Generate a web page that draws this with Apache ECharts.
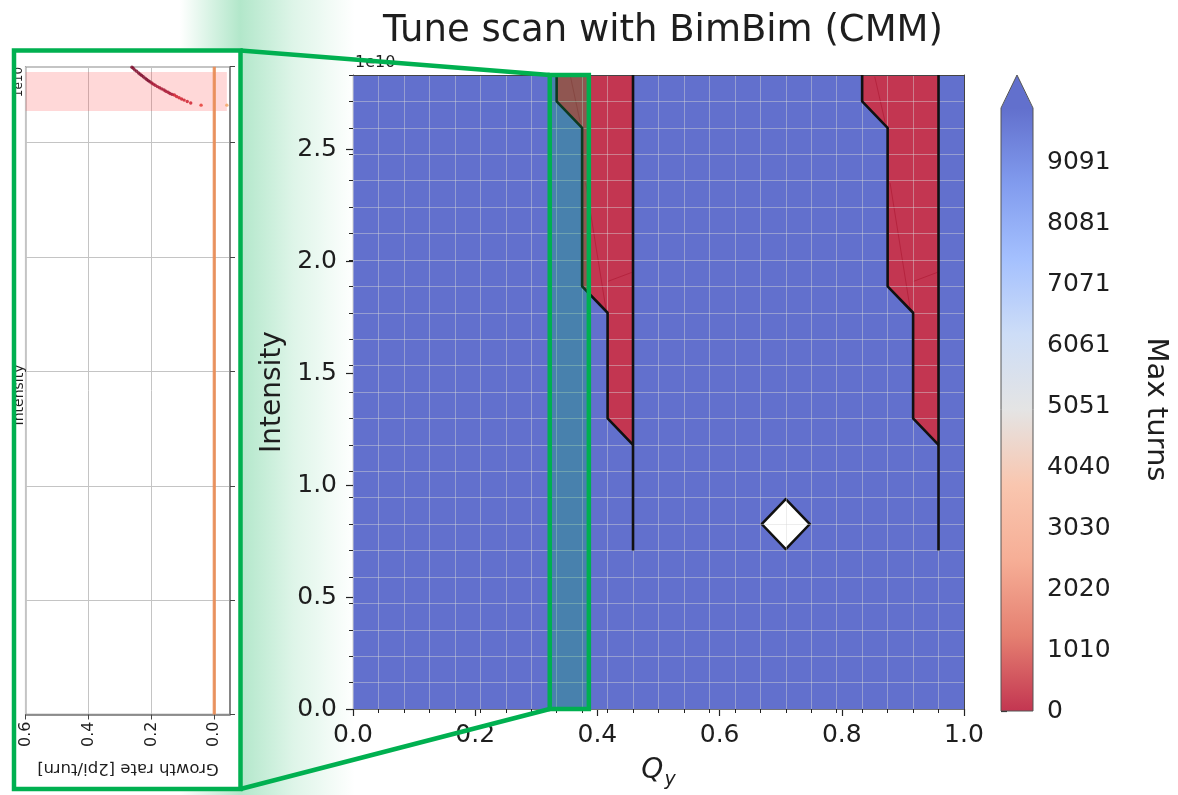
<!DOCTYPE html>
<html><head><meta charset="utf-8">
<script src="https://cdn.jsdelivr.net/npm/echarts@6/dist/echarts.min.js"></script>
<style>html,body{margin:0;padding:0;background:#fff}#c{width:1178px;height:795px}</style>
</head><body><div id="c"></div>
<script>
// ================= DATA =================
const qyTicks = [0, 0.2, 0.4, 0.6, 0.8, 1.0];
const qyStep = 1 / 24;                 // tune scan step in Qy
const intensityStep = 0.118;           // tune scan step in intensity (x1e10)
const qyRange = [0, 1];
const intensityRange = [0, 2.832];     // x1e10
// unstable (max turns ~ 0) regions, Qy vs intensity
const unstableA = [[0.3333,2.832],[0.3333,2.714],[0.375,2.596],[0.375,1.888],[0.4167,1.770],[0.4167,1.298],[0.4583,1.180],[0.4583,2.832]];
const unstableB = [[0.8333,2.832],[0.8333,2.714],[0.875,2.596],[0.875,1.888],[0.9167,1.770],[0.9167,1.298],[0.9583,1.180],[0.9583,2.832]];
// stability boundary contours
const contourA1 = [[0.3333,2.832],[0.3333,2.714],[0.375,2.596],[0.375,1.888],[0.4167,1.770],[0.4167,1.298],[0.4583,1.180]];
const contourA2 = [[0.4583,2.832],[0.4583,0.708]];
const contourB1 = [[0.8333,2.832],[0.8333,2.714],[0.875,2.596],[0.875,1.888],[0.9167,1.770],[0.9167,1.298],[0.9583,1.180]];
const contourB2 = [[0.9583,2.832],[0.9583,0.708]];
// faint inner contour traces
const innerTraces = [
  [[0.356,2.824],[0.372,2.62]], [[0.381,2.35],[0.414,1.786]], [[0.417,1.91],[0.456,1.95]],
  [[0.854,2.824],[0.871,2.62]], [[0.879,2.35],[0.912,1.786]], [[0.917,1.91],[0.956,1.95]]
];
const workingPoint = [[0.7083, 0.826]];
const highlightQy = [0.322, 0.386];
// colorbar (max turns)
const colorbarTicks = [0, 1010.1, 2020.2, 3030.3, 4040.4, 5050.5, 6060.6, 7070.7, 8080.8, 9090.9];
const colorbarMax = 10000;
// inset: growth rate [2pi/turn] vs intensity (x1e10)
const growthRate      = [0.262,0.258,0.253,0.247,0.241,0.236,0.231,0.226,0.220,0.215,0.210,0.205,0.199,0.194,0.188,0.181,0.174,0.167,0.160,0.154,0.147,0.141,0.134,0.127,0.120,0.112,0.104,0.096,0.086,0.075,0.042,-0.040];
const growthIntensity = [2.830,2.825,2.818,2.812,2.805,2.799,2.794,2.788,2.782,2.776,2.771,2.766,2.761,2.756,2.751,2.745,2.740,2.735,2.730,2.725,2.720,2.715,2.711,2.708,2.702,2.696,2.691,2.686,2.680,2.673,2.664,2.664];
const stableModeLine = [[0, 0], [0, 2.832]];
const insetBand = [2.638, 2.809];
const insetBandGrowth = [0.6, -0.04];
const growthTicks = [0, 0.2, 0.4, 0.6];
const insetIntensityTicksStep = 0.5;

// ================= STYLE =================
const FONT = 'DejaVu Sans';
const TXT = '#1e1e1e';
const GREEN = '#00b050';
// coolwarm (alpha 0.8 on white), from 0 turns (red) to max (blue)
const cmapStops = [
  [0.000,'rgb(195,54,81)'],[0.125,'rgb(229,128,113)'],[0.250,'rgb(246,174,150)'],
  [0.375,'rgb(249,198,175)'],[0.500,'rgb(228,228,228)'],[0.625,'rgb(205,221,247)'],
  [0.750,'rgb(164,192,254)'],[0.875,'rgb(129,155,238)'],[1.000,'rgb(98,112,205)']
].map(s => ({offset: s[0], color: s[1]}));
const STABLE_COLOR = 'rgb(98,112,205)';
const UNSTABLE_COLOR = 'rgb(195,54,81)';

const chart = echarts.init(document.getElementById('c'), null, {renderer: 'canvas'});

function fillSeries(poly, color, z) {
  return {type:'custom', xAxisIndex:0, yAxisIndex:0, z, silent:true, clip:true, data:[[poly[0][0], poly[0][1]]],
    renderItem: (p, api) => ({type:'polygon', shape:{points: poly.map(pt => api.coord(pt))}, style:{fill: color}})};
}
function contourSeries(pts) {
  return {type:'line', xAxisIndex:0, yAxisIndex:0, z:12, data: pts, showSymbol:false, symbol:'none', silent:true, clip:true,
    lineStyle:{color:'#111', width:2.6}};
}
function dotColor(g) {
  if (g > 0.20) return '#7d0a2a';
  if (g > 0.13) return '#a30e2c';
  if (g > 0.06) return '#cc1626';
  if (g > 0) return '#e5332a';
  return '#f4a25c';
}

const option = {
  animation: false,
  backgroundColor: '#fff',
  title: {text:'Tune scan with BimBim (CMM)', left: 658, top: 8, textAlign:'center',
    textStyle:{fontFamily:FONT, fontSize:37, fontWeight:'normal', color:TXT}},
  grid: [
    {left:353, top:75, width:611, height:636},
    {left:25.7, top:66.7, width:204.3, height:647.8, show:true, backgroundColor:'#fff', borderColor:'#8a8a8a', borderWidth:1.5},
    {left:1001, top:108, width:32, height:603}
  ],
  xAxis: [
    {gridIndex:0, type:'value', position:'bottom', min:qyRange[0], max:qyRange[1], interval:0.2,
      axisLine:{show:true, onZero:false, lineStyle:{color:'#222', width:1.2}},
      axisTick:{show:true, length:7, lineStyle:{color:'#222', width:1.2}},
      axisLabel:{fontFamily:FONT, fontSize:25, color:TXT, margin:14, formatter: v => v.toFixed(1)},
      splitLine:{show:false},
      name:'{q|Q}{s|y}', nameLocation:'middle', nameGap:48,
      nameTextStyle:{rich:{q:{fontFamily:FONT, fontSize:28, fontStyle:'italic', color:TXT, verticalAlign:'top'},
                           s:{fontFamily:FONT, fontSize:19, fontStyle:'italic', color:TXT, verticalAlign:'top', padding:[14,0,0,1]}}}},
    {gridIndex:0, type:'value', position:'bottom', min:qyRange[0], max:qyRange[1], interval:qyStep, z:10,
      axisLine:{show:false, onZero:false}, axisTick:{show:true, length:4, lineStyle:{color:'#222'}},
      axisLabel:{show:false}, splitLine:{show:true, lineStyle:{color:'rgba(215,215,215,0.45)', width:1}}},
    {gridIndex:0, type:'value', position:'top', min:qyRange[0], max:qyRange[1], z:11,
      axisLine:{show:true, onZero:false, lineStyle:{color:'#444', width:1}}, axisTick:{show:false}, axisLabel:{show:false}, splitLine:{show:false}},
    {gridIndex:1, type:'value', position:'bottom', inverse:true, min:-0.05, max:0.6,
      axisLine:{show:true, onZero:false, lineStyle:{color:'#7a7a7a', width:1.5}},
      axisTick:{show:true, length:5, customValues:growthTicks, lineStyle:{color:'#444'}},
      axisLabel:{customValues:growthTicks, rotate:90, fontFamily:FONT, fontSize:16, color:TXT, margin:7, formatter: v => v.toFixed(1)},
      splitLine:{show:true, lineStyle:{color:'#c4c4c4', width:1}}},
    {gridIndex:2, type:'value', min:0, max:1, show:false}
  ],
  yAxis: [
    {gridIndex:0, type:'value', position:'left', min:intensityRange[0], max:intensityRange[1], interval:0.5,
      axisLine:{show:true, onZero:false, lineStyle:{color:'#222', width:1.2}},
      axisTick:{show:true, length:7, lineStyle:{color:'#222', width:1.2}},
      axisLabel:{fontFamily:FONT, fontSize:25, color:TXT, margin:16, formatter: v => v.toFixed(1), showMaxLabel:false},
      splitLine:{show:false},
      name:'Intensity', nameLocation:'middle', nameGap:64,
      nameTextStyle:{fontFamily:FONT, fontSize:28, color:TXT}},
    {gridIndex:0, type:'value', position:'left', min:intensityRange[0], max:intensityRange[1], interval:intensityStep, z:10,
      axisLine:{show:false, onZero:false}, axisTick:{show:true, length:4, lineStyle:{color:'#222'}},
      axisLabel:{show:false}, splitLine:{show:true, lineStyle:{color:'rgba(215,215,215,0.45)', width:1}}},
    {gridIndex:0, type:'value', position:'right', min:intensityRange[0], max:intensityRange[1], z:11,
      axisLine:{show:true, onZero:false, lineStyle:{color:'#444', width:1}}, axisTick:{show:false}, axisLabel:{show:false}, splitLine:{show:false}},
    {gridIndex:1, type:'value', position:'right', min:intensityRange[0], max:intensityRange[1], interval:insetIntensityTicksStep,
      axisLine:{show:true, onZero:false, lineStyle:{color:'#7a7a7a', width:1.5}},
      axisTick:{show:true, length:5, lineStyle:{color:'#444'}},
      axisLabel:{show:false}, splitLine:{show:true, lineStyle:{color:'#c4c4c4', width:1}}},
    {gridIndex:2, type:'value', position:'right', min:0, max:colorbarMax,
      axisLine:{show:false}, axisTick:{show:true, length:6, customValues:colorbarTicks, lineStyle:{color:'#222', width:1.2}},
      axisLabel:{customValues:colorbarTicks, fontFamily:FONT, fontSize:25, color:TXT, margin:14, formatter: v => String(Math.round(v))},
      splitLine:{show:false},
      name:'Max turns', nameLocation:'middle', nameGap:108, nameRotate:-90,
      nameTextStyle:{fontFamily:FONT, fontSize:29, color:TXT}}
  ],
  series: [
    // stable area (max turns >= 10000)
    {type:'custom', xAxisIndex:0, yAxisIndex:0, z:1, silent:true, clip:true, data:[[qyRange[0], intensityRange[0]]],
      renderItem:(p, api) => {
        const a = api.coord([qyRange[0], intensityRange[1]]), b = api.coord([qyRange[1], intensityRange[0]]);
        return {type:'rect', shape:{x:a[0], y:a[1], width:b[0]-a[0], height:b[1]-a[1]}, style:{fill:STABLE_COLOR}};
      }},
    fillSeries(unstableA, UNSTABLE_COLOR, 2),
    fillSeries(unstableB, UNSTABLE_COLOR, 2),
    {type:'custom', xAxisIndex:0, yAxisIndex:0, z:3, silent:true, clip:true, data: innerTraces.map(t => t[0]),
      renderItem:(p, api) => ({type:'polyline', shape:{points: innerTraces[p.dataIndex].map(pt => api.coord(pt))},
        style:{stroke:'rgba(170,20,45,0.55)', lineWidth:1, fill:null}})},
    contourSeries(contourA1), contourSeries(contourA2), contourSeries(contourB1), contourSeries(contourB2),
    {type:'scatter', xAxisIndex:0, yAxisIndex:0, z:5, data: workingPoint, symbol:'diamond', symbolSize:[48,50], silent:true,
      itemStyle:{color:'#fff', borderColor:'#111', borderWidth:2.5, opacity:1}},
    // zoom highlight
    {type:'custom', xAxisIndex:0, yAxisIndex:0, z:15, silent:true, clip:false, data:[[highlightQy[0], intensityRange[0]]],
      renderItem:(p, api) => {
        const a = api.coord([highlightQy[0], intensityRange[1]]), b = api.coord([highlightQy[1], intensityRange[0]]);
        return {type:'rect', shape:{x:a[0], y:a[1], width:b[0]-a[0], height:b[1]-a[1]},
          style:{fill:'rgba(0,176,80,0.26)', stroke:GREEN, lineWidth:4.5}};
      }},
    // inset: unstable band
    {type:'custom', xAxisIndex:3, yAxisIndex:3, z:1, silent:true, clip:true, data:[[insetBandGrowth[0], insetBand[0]]],
      renderItem:(p, api) => {
        const a = api.coord([insetBandGrowth[0], insetBand[1]]), b = api.coord([insetBandGrowth[1], insetBand[0]]);
        return {type:'rect', shape:{x:a[0], y:a[1], width:b[0]-a[0], height:b[1]-a[1]}, style:{fill:'rgba(255,60,60,0.2)'}};
      }},
    {type:'line', xAxisIndex:3, yAxisIndex:3, z:3, data: stableModeLine, showSymbol:false, symbol:'none', silent:true,
      lineStyle:{color:'rgba(234,140,84,0.9)', width:3.2}},
    {type:'scatter', xAxisIndex:3, yAxisIndex:3, z:4, silent:true, clip:true, symbolSize:3.4,
      data: growthRate.map((g, i) => [g, growthIntensity[i]]),
      itemStyle:{color: p => dotColor(p.value[0])}},
    // colorbar
    {type:'custom', xAxisIndex:4, yAxisIndex:4, z:2, silent:true, clip:false, data:[[0, 0]],
      renderItem:(p, api) => {
        const tl = api.coord([0, colorbarMax]), br = api.coord([1, 0]);
        const w = br[0] - tl[0], tip = tl[1] - 33;
        return {type:'group', children:[
          {type:'rect', shape:{x:tl[0], y:tl[1], width:w, height:br[1]-tl[1]},
            style:{fill: new echarts.graphic.LinearGradient(0, 1, 0, 0, cmapStops)}},
          {type:'polygon', shape:{points:[[tl[0], tl[1]+0.5],[br[0], tl[1]+0.5],[tl[0]+w/2, tip]]}, style:{fill:STABLE_COLOR}},
          {type:'polygon', shape:{points:[[tl[0], br[1]],[tl[0], tl[1]],[tl[0]+w/2, tip],[br[0], tl[1]],[br[0], br[1]]]},
            style:{fill:null, stroke:'#555', lineWidth:1}}
        ]};
      }}
  ],
  graphic: [
    {id:'glow', type:'rect', z:-10, shape:{x:180, y:0, width:175, height:795},
      style:{fill: new echarts.graphic.LinearGradient(0, 0, 1, 0, [
        {offset:0, color:'rgba(0,176,80,0.0)'}, {offset:0.343, color:'rgba(0,176,80,0.30)'},
        {offset:0.65, color:'rgba(0,176,80,0.13)'}, {offset:1, color:'rgba(0,176,80,0.0)'}])}},
    {id:'boxFill', type:'rect', z:-9, shape:{x:14, y:50.5, width:226.5, height:738.5}, style:{fill:'#fff'}},
    {id:'insetIntensity', type:'text', z:20, x:19, y:395, rotation:Math.PI/2,
      style:{text:'Intensity', fontFamily:FONT, fontSize:14, fill:TXT, align:'center', verticalAlign:'middle'}},
    {id:'insetExp', type:'text', z:20, x:19, y:82, rotation:Math.PI/2,
      style:{text:'1e10', fontFamily:FONT, fontSize:12, fill:TXT, align:'center', verticalAlign:'middle'}},
    {id:'insetXName', type:'text', z:20, x:128, y:768, rotation:Math.PI,
      style:{text:'Growth rate [2pi/turn]', fontFamily:FONT, fontSize:16.5, fill:TXT, align:'center', verticalAlign:'middle'}},
    {id:'mainExp', type:'text', z:20, x:355, y:63,
      style:{text:'1e10', fontFamily:FONT, fontSize:16, fill:TXT, align:'left', verticalAlign:'middle'}},
    {id:'box', type:'rect', z:60, shape:{x:14, y:50.5, width:226.5, height:738.5},
      style:{fill:null, stroke:GREEN, lineWidth:4.5}}
  ]
};
chart.setOption(option);

// connector lines from inset box to highlighted strip
const hTop = chart.convertToPixel({xAxisIndex:0, yAxisIndex:0}, [highlightQy[0], intensityRange[1]]);
const hBot = chart.convertToPixel({xAxisIndex:0, yAxisIndex:0}, [highlightQy[0], intensityRange[0]]);
chart.setOption({graphic:[
  {id:'lnTop', type:'line', z:60, shape:{x1:240.5, y1:50.5, x2:hTop[0], y2:hTop[1]}, style:{stroke:GREEN, lineWidth:4.5}},
  {id:'lnBot', type:'line', z:60, shape:{x1:240.5, y1:789, x2:hBot[0], y2:hBot[1]}, style:{stroke:GREEN, lineWidth:4.5}}
]});
</script></body></html>
